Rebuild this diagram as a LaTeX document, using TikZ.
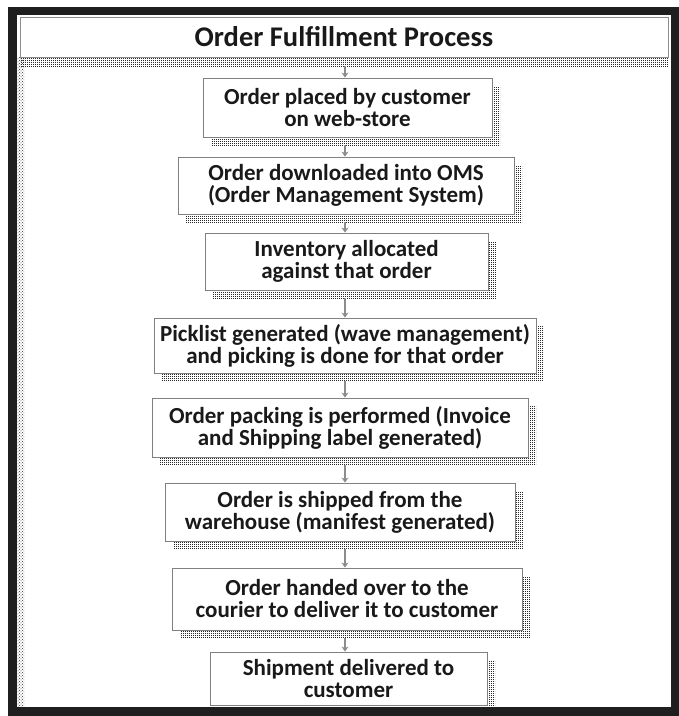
\documentclass[tikz,border=0pt]{standalone}
\usepackage{fontspec}
\setmainfont{Carlito}
\usetikzlibrary{patterns,shadows,arrows.meta}
\pgfdeclarepatternformonly{stipple}{\pgfpointorigin}{\pgfpoint{2.4pt}{2.4pt}}{\pgfpoint{2.4pt}{2.4pt}}{%
  \pgfpathrectangle{\pgfpointorigin}{\pgfpoint{1.2pt}{1.2pt}}\pgfusepath{fill}}
\begin{document}
\begin{tikzpicture}[x=1pt,y=-1pt,
  stepbox/.style={draw=black!50, line width=0.9pt, fill=white, align=center,
    text=black!90, font=\bfseries\fontsize{23}{22}\selectfont, inner sep=0pt,
    general shadow={shadow xshift=8pt, shadow yshift=-8pt, pattern=stipple, pattern color=black!85}},
  titlebox/.style={draw=black!45, line width=0.8pt, fill=white, text=black!90,
    font=\bfseries\fontsize{28.5}{28}\selectfont, inner sep=0pt,
    general shadow={shadow xshift=0pt, shadow yshift=-9pt, pattern=stipple, pattern color=black!85}},
  flowarrow/.style={draw=black!45, line width=1.6pt, -{Stealth[length=5pt,width=7pt]}},
  frameline/.style={draw=black!88, line width=8.5pt}
]
\useasboundingbox (0,0) rectangle (679,716);
\fill[white] (0,0) rectangle (679,716);
% inner dotted strip on the left
\fill[pattern=crosshatch dots, pattern color=black!80] (17,57) rectangle (24,707);
% title
\node[titlebox, minimum width=648pt, minimum height=40pt] (title) at (344,37) {Order Fulfillment Process};
% steps
\node[stepbox, minimum width=289pt, minimum height=59pt] (b1) at (347.5,107.5) {Order placed by customer\\on web-store};
\node[stepbox, minimum width=336pt, minimum height=57pt] (b2) at (346,185.5) {Order downloaded into OMS\\(Order Management System)};
\node[stepbox, minimum width=283pt, minimum height=57pt] (b3) at (346.5,261.5) {Inventory allocated\\against that order};
\node[stepbox, minimum width=382pt, minimum height=55pt] (b4) at (345,345.5) {Picklist generated (wave management)\\and picking is done for that order};
\node[stepbox, minimum width=376pt, minimum height=59pt] (b5) at (340,427.5) {Order packing is performed (Invoice\\and Shipping label generated)};
\node[stepbox, minimum width=350pt, minimum height=58pt] (b6) at (340,512) {Order is shipped from the\\warehouse (manifest generated)};
\node[stepbox, minimum width=350pt, minimum height=62pt] (b7) at (347,599) {Order handed over to the\\courier to deliver it to customer};
\node[stepbox, minimum width=277pt, minimum height=53pt] (b8) at (348.5,678.5) {Shipment delivered to\\customer};
% arrows
\coordinate (ax) at (345,0);
\draw[flowarrow] ([yshift=-9pt]title.south -| ax) -- (b1.north -| ax);
\draw[flowarrow] ([yshift=-8pt]b1.south -| ax) -- (b2.north -| ax);
\draw[flowarrow] ([yshift=-8pt]b2.south -| ax) -- (b3.north -| ax);
\draw[flowarrow] ([yshift=-8pt]b3.south -| ax) -- (b4.north -| ax);
\draw[flowarrow] ([yshift=-8pt]b4.south -| ax) -- (b5.north -| ax);
\draw[flowarrow] ([yshift=-8pt]b5.south -| ax) -- (b6.north -| ax);
\draw[flowarrow] ([yshift=-8pt]b6.south -| ax) -- (b7.north -| ax);
\draw[flowarrow] ([yshift=-8pt]b7.south -| ax) -- (b8.north -| ax);
% outer frame
\draw[frameline] (12.5,11) rectangle (675,711.5);
\end{tikzpicture}
\end{document}
